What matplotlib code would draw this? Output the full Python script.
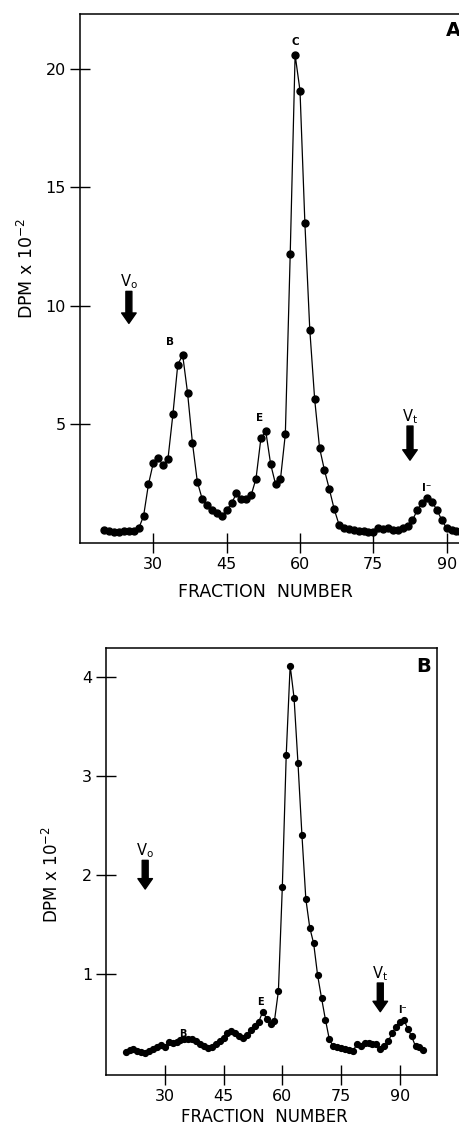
import matplotlib
matplotlib.use('Agg')
import matplotlib.pyplot as plt

plt.rcParams['font.family'] = ['DejaVu Sans']

# panel A: fraction number vs DPM x 10^-2
frac_a = list(range(20, 96))
dpm_a = [0.55, 0.48, 0.45, 0.47, 0.48, 0.50, 0.50, 0.60,
         1.12, 2.46, 3.37, 3.58, 3.26, 3.55, 5.41, 7.51, 7.92, 6.32,
         4.21, 2.57, 1.84, 1.59, 1.38, 1.24, 1.12, 1.38, 1.66, 2.08,
         1.84, 1.84, 2.00, 2.70, 4.40, 4.70, 3.31, 2.47, 2.67, 4.58,
         12.19, 20.58, 19.07, 13.48, 8.99, 6.05, 4.00, 3.06, 2.26, 1.41,
         0.75, 0.62, 0.57, 0.53, 0.50, 0.48, 0.46, 0.47, 0.62, 0.58,
         0.63, 0.55, 0.55, 0.60, 0.70, 0.95, 1.38, 1.69, 1.87, 1.73,
         1.38, 0.96, 0.61, 0.52, 0.49, 0.47, 0.46, 0.45]

# panel B
frac_b = list(range(20, 97))
dpm_b = [0.21, 0.23, 0.24, 0.22, 0.21, 0.20, 0.22, 0.24, 0.26, 0.28,
         0.26, 0.31, 0.30, 0.31, 0.33, 0.34, 0.34, 0.34, 0.32, 0.29,
         0.27, 0.25, 0.26, 0.29, 0.32, 0.35, 0.40, 0.42, 0.40, 0.37,
         0.35, 0.38, 0.44, 0.48, 0.52, 0.62, 0.55, 0.50, 0.53, 0.83,
         1.88, 3.22, 4.12, 3.79, 3.13, 2.41, 1.76, 1.47, 1.31, 0.99,
         0.76, 0.54, 0.34, 0.27, 0.26, 0.25, 0.24, 0.23, 0.22, 0.29,
         0.27, 0.30, 0.30, 0.29, 0.29, 0.24, 0.27, 0.32, 0.40, 0.47,
         0.52, 0.54, 0.45, 0.37, 0.27, 0.26, 0.23]

xticks = [30, 45, 60, 75, 90]
yticks_a = [5, 10, 15, 20]
yticks_b = [1, 2, 3, 4]

# peak labels (name, fraction, height)
peaks_a = [('C', 59, 21.1), ('B', 33.5, 8.47), ('E', 51.8, 5.24), ('I⁻', 86, 2.29)]
peaks_b = [('E', 54.3, 0.72), ('B', 34.5, 0.39), ('I⁻', 90.7, 0.64)]

fig = plt.figure(figsize=(4.59, 11.25), dpi=100)


def style(ax):
    for s in ['top', 'right', 'left', 'bottom']:
        ax.spines[s].set_linewidth(1.1)
    ax.tick_params(direction='inout', length=14, width=1.0, labelsize=11.5, pad=3)
    ax.set_xticks(xticks)


def arrow(ax, x, y0, y1, label):
    ax.annotate('', xy=(x, y1), xytext=(x, y0),
                arrowprops=dict(facecolor='black', edgecolor='black', width=4.3,
                                headwidth=10.5, headlength=7.5, shrink=0))
    ax.text(x, y0, label, ha='center', va='bottom', fontsize=10.5)


# ---- A ----
axa = fig.add_axes([80 / 459, 582.3 / 1125, 396 / 459, 528.7 / 1125])
axa.plot(frac_a, dpm_a, '-o', color='black', lw=0.9, ms=5)
axa.set_xlim(15, 96)
axa.set_ylim(0, 22.3)
axa.set_yticks(yticks_a)
style(axa)
for name, fx, fy in peaks_a:
    axa.text(fx, fy, name, ha='center', va='center', fontsize=7.5, fontweight='bold')
arrow(axa, 25, 10.6, 9.25, r'V$_\mathregular{o}$')
arrow(axa, 82.5, 4.92, 3.48, r'V$_\mathregular{t}$')

# ---- B ----
axb = fig.add_axes([106 / 459, 50 / 1125, 330.7 / 459, 427.3 / 1125])
axb.plot(frac_b, dpm_b, '-o', color='black', lw=0.9, ms=4.2)
axb.set_xlim(15, 99.4)
axb.set_ylim(-0.02, 4.3)
axb.set_yticks(yticks_b)
style(axb)
for name, fx, fy in peaks_b:
    axb.text(fx, fy, name, ha='center', va='center', fontsize=7, fontweight='bold')
arrow(axb, 25, 2.15, 1.86, r'V$_\mathregular{o}$')
arrow(axb, 85, 0.91, 0.62, r'V$_\mathregular{t}$')

# axis titles and panel letters
fig.text(27 / 459, 1 - 268 / 1125, r'DPM x 10$^{-2}$', rotation=90, ha='center', va='center', fontsize=12.5)
fig.text(265 / 459, 1 - 592 / 1125, 'FRACTION  NUMBER', ha='center', va='center', fontsize=12.5)
fig.text(52 / 459, 1 - 875 / 1125, r'DPM x 10$^{-2}$', rotation=90, ha='center', va='center', fontsize=12)
fig.text(264 / 459, 1 - 1117 / 1125, 'FRACTION  NUMBER', ha='center', va='center', fontsize=12)
fig.text(446 / 459, 1 - 31 / 1125, 'A', ha='left', va='center', fontsize=14, fontweight='bold')
fig.text(416 / 459, 1 - 666 / 1125, 'B', ha='left', va='center', fontsize=14, fontweight='bold')

fig.savefig('out.png', dpi=100)
